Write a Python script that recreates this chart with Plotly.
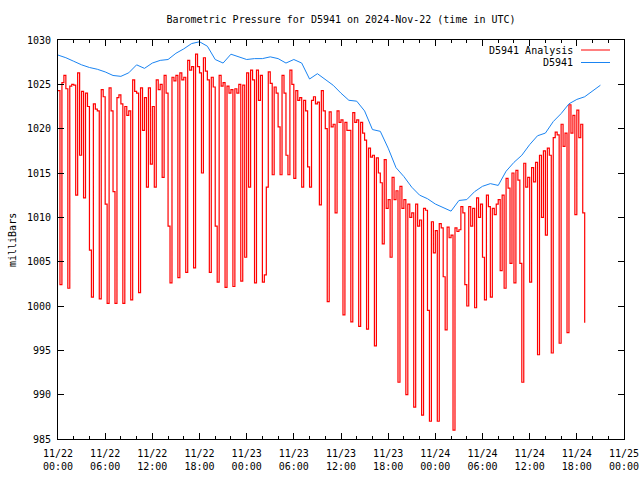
import pandas as pd
import plotly.graph_objects as go

# ---- data ----
title_text = "Barometric Pressure for D5941 on 2024-Nov-22 (time in UTC)"
series_names = ["D5941 Analysis", "D5941"]

# D5941 Analysis: 15-minute samples from 2024-11-22 00:00 UTC
analysis_start = "2024-11-22 00:00"
analysis_values = [
    1024.3, 1002.4, 1025.2, 1026.0,
    1024.5, 1002.0, 1024.8, 1025.0,
    1024.9, 1012.5, 1026.3, 1017.0,
    1024.2, 1012.2, 1024.0, 1022.5,
    1006.3, 1001.0, 1022.8, 1022.2,
    1022.0, 1000.8, 1024.4, 1023.6,
    1011.5, 1000.3, 1024.6, 1022.0,
    1012.9, 1000.3, 1023.5, 1023.8,
    1022.8, 1000.3, 1022.5, 1021.5,
    1022.0, 1000.7, 1025.5, 1024.2,
    1024.0, 1001.5, 1024.6, 1019.8,
    1023.5, 1013.4, 1024.6, 1016.0,
    1022.5, 1013.4, 1025.5, 1024.4,
    1025.0, 1014.5, 1026.0, 1024.0,
    1009.0, 1002.6, 1025.8, 1025.4,
    1026.0, 1003.2, 1026.3, 1025.5,
    1025.8, 1003.8, 1027.7, 1026.6,
    1027.0, 1004.3, 1028.4, 1027.0,
    1026.3, 1015.0, 1028.0, 1026.5,
    1025.5, 1003.8, 1025.8, 1024.7,
    1009.0, 1002.7, 1026.0, 1024.8,
    1025.2, 1002.1, 1024.8, 1024.0,
    1024.4, 1002.2, 1024.5, 1024.0,
    1025.0, 1002.8, 1024.9, 1005.5,
    1026.3, 1013.4, 1026.6, 1025.5,
    1002.6, 1026.6, 1023.2, 1026.0,
    1002.7, 1003.5, 1013.4, 1026.4,
    1025.1, 1014.8, 1024.7, 1024.0,
    1020.2, 1014.8, 1026.0, 1024.0,
    1017.0, 1014.8, 1026.6, 1025.0,
    1014.4, 1024.3, 1023.2, 1023.5,
    1013.4, 1023.2, 1022.0, 1015.7,
    1013.4, 1023.2, 1023.6, 1022.8,
    1023.0, 1011.4, 1024.3, 1022.0,
    1020.0, 1000.5, 1021.9, 1020.2,
    1020.5, 1010.5, 1022.0, 1020.7,
    1021.0, 999.0, 1020.7, 1019.8,
    1019.8, 998.2, 1021.8, 1020.7,
    1021.0, 997.7, 1020.7, 1019.5,
    1018.7, 997.4, 1017.8, 1016.8,
    1017.0, 995.5, 1016.7, 1015.0,
    1013.9, 1007.0, 1016.5, 1011.0,
    1012.0, 1005.5, 1014.5, 1012.0,
    1013.0, 991.4, 1013.5, 1011.0,
    1012.0, 990.0, 1011.5, 1010.0,
    1010.5, 988.6, 1011.5, 1009.0,
    1009.7, 987.7, 1011.0, 1010.8,
    999.5, 987.0, 1009.5, 1006.0,
    1008.5, 987.0, 1009.3, 1008.8,
    1003.3, 997.3, 1008.9, 1007.7,
    1008.0, 986.0, 1008.8, 1008.4,
    1008.6, 1011.2, 1010.5, 1002.4,
    1000.0, 1011.2, 1009.0, 1011.0,
    999.8, 1012.2, 1010.0, 1011.5,
    1005.5, 1000.7, 1012.5, 1011.2,
    1001.0, 1011.0, 1010.3, 1011.5,
    1012.0, 1004.0, 1012.5, 1002.0,
    1014.4, 1013.3, 1004.8, 1015.0,
    1002.6, 1015.3, 1014.2, 1004.8,
    991.4, 1016.1, 1013.4, 1014.5,
    1002.7, 1015.6, 1014.0, 1016.2,
    994.5, 1017.0, 1010.0, 1017.5,
    1008.0, 1017.8, 1017.0, 994.7,
    1019.0, 1019.6, 1019.3, 995.8,
    1020.5, 1018.0, 1019.5, 997.0,
    1022.7, 1019.5, 1021.5, 1010.3,
    1022.1, 1019.0, 1020.5, 1010.5,
    998.1,
]

# D5941 station: hourly samples from 2024-11-22 00:00 UTC
station_start = "2024-11-22 00:00"
station_values = [
    1028.3, 1028.0, 1027.6, 1027.2, 1026.9, 1026.7, 1026.4, 1026.0,
    1025.9, 1026.3, 1027.2, 1026.8, 1027.4, 1027.7, 1027.8, 1028.5,
    1029.0, 1029.6, 1029.8, 1029.3, 1027.8, 1027.4, 1028.4, 1028.1,
    1027.8, 1027.9, 1027.9, 1028.1, 1027.9, 1027.4, 1027.8, 1027.4,
    1025.6, 1026.2, 1025.6, 1024.9, 1024.0, 1023.2, 1023.1, 1022.0,
    1019.9, 1019.7, 1017.8, 1015.6, 1014.6, 1013.4, 1012.5, 1012.1,
    1011.5, 1011.1, 1010.7, 1011.9, 1012.0, 1012.9, 1013.5, 1013.8,
    1013.6, 1015.2, 1016.2, 1017.0, 1018.2, 1019.2, 1019.5, 1020.8,
    1021.7, 1022.8, 1023.3, 1023.6, 1024.2, 1024.9,
]

x_range = ["2024-11-22 00:00", "2024-11-25 00:00"]
y_range = [985, 1030]

analysis_times = pd.date_range(analysis_start, periods=len(analysis_values), freq="15min")
station_times = pd.date_range(station_start, periods=len(station_values), freq="1h")

RED = "#ff0000"
BLUE = "#1a84f2"
FONT = "DejaVu Sans Mono"

fig = go.Figure()
fig.add_trace(go.Scatter(x=analysis_times, y=analysis_values, mode="lines",
                         name=series_names[0], line=dict(color=RED, width=1.2, shape="hv"),
                         showlegend=False))
fig.add_trace(go.Scatter(x=station_times, y=station_values, mode="lines",
                         name=series_names[1], line=dict(color=BLUE, width=1),
                         showlegend=False))

W, H = 640, 480
L, R, T, B = 58, 16, 40, 41
pw, ph = W - L - R, H - T - B

def px(xp):  # window pixel -> paper x
    return (xp - L) / pw

def py(yp):  # window pixel -> paper y
    return (H - B - yp) / ph

fig.update_layout(
    width=W, height=H,
    margin=dict(l=L, r=R, t=T, b=B, autoexpand=False),
    paper_bgcolor="white", plot_bgcolor="white",
    font=dict(family=FONT, size=10, color="black"),
    title=dict(text=title_text, x=(L + pw / 2) / W, xanchor="center",
               y=1 - 19 / H, yanchor="middle", font=dict(family=FONT, size=10)),
    hovermode=False,
)

fig.update_xaxes(
    type="date", range=x_range, dtick=6 * 3600 * 1000, tick0="2024-11-22 00:00",
    tickformat="%m/%d<br>%H:%M", ticks="inside", ticklen=6, tickcolor="black",
    showline=True, linecolor="black", linewidth=1, mirror="allticks",
    showgrid=False, zeroline=False, ticklabelstandoff=5,
    minor=dict(dtick=2 * 3600 * 1000, ticks="inside", ticklen=3, tickcolor="black", showgrid=False),
    tickfont=dict(family=FONT, size=10),
)
fig.update_yaxes(
    range=y_range, dtick=5, ticks="inside", ticklen=6, tickcolor="black",
    showline=True, linecolor="black", linewidth=1, mirror="allticks",
    showgrid=False, zeroline=False, ticklabelstandoff=4,
    tickfont=dict(family=FONT, size=10),
)

# y-axis label
fig.add_annotation(text="milliBars", xref="paper", yref="paper",
                   x=px(12), y=py(240), textangle=-90, showarrow=False,
                   xanchor="center", yanchor="middle", font=dict(family=FONT, size=10))

# legend (gnuplot style: text right-aligned, key sample on the right)
legend_rows = [(series_names[0], RED, 50), (series_names[1], BLUE, 62.5)]
for name, col, yp in legend_rows:
    fig.add_annotation(text=name, xref="paper", yref="paper", x=px(575), y=py(yp),
                       xanchor="right", yanchor="middle", showarrow=False,
                       font=dict(family=FONT, size=10))
    fig.add_shape(type="line", xref="paper", yref="paper",
                  x0=px(581), x1=px(610), y0=py(yp), y1=py(yp),
                  line=dict(color=col, width=1))

# remove the default page margin so the 640x480 figure fills the window exactly
fig.write_html("out.html",
               config={"displayModeBar": False, "staticPlot": True},
               post_script="document.body.style.margin='0';document.body.style.overflow='hidden';")
